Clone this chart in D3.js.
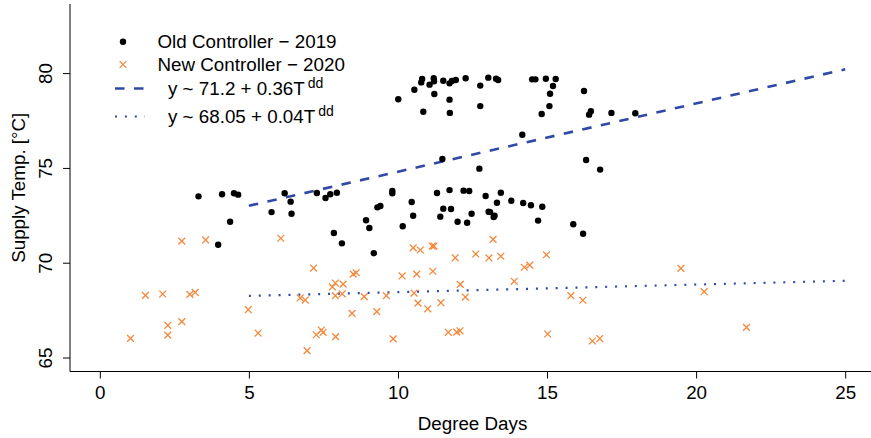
<!DOCTYPE html>
<html><head><meta charset="utf-8">
<script src="https://cdn.jsdelivr.net/npm/d3@7/dist/d3.min.js"></script>
<style>
body{margin:0;background:#fff}
svg{display:block}
text{font-family:"Liberation Sans",Arial,Helvetica,sans-serif;fill:#000}
</style>
</head><body>
<svg id="chart" width="871" height="438"></svg>
<script>
// ---- data ----
const oldPoints = [
 [10.01,78.62],[10.55,79.12],[10.81,79.69],[10.78,79.51],[10.85,77.96],[11.06,79.39],[11.20,79.73],[11.21,79.57],
 [11.22,78.90],[11.52,79.60],[11.73,79.46],[11.81,79.58],[11.94,79.64],[11.73,78.60],[11.74,77.90],[12.27,79.73],
 [12.76,79.34],[12.76,78.26],[13.03,79.76],[13.29,79.70],[13.36,79.64],[14.50,79.67],[14.61,79.67],[14.96,79.70],
 [15.29,79.69],[15.20,79.32],[15.10,78.91],[15.08,78.26],[14.82,77.84],[14.17,76.75],[16.24,79.06],[16.47,77.99],
 [16.41,77.81],[17.16,77.90],[17.96,77.88],[11.49,75.47],[12.73,74.96],[16.31,75.42],[16.78,74.91],[15.88,72.03],
 [16.21,71.53],[3.31,73.50],[4.10,73.61],[4.50,73.66],[4.64,73.59],[4.37,72.16],[3.97,70.95],[6.20,73.66],
 [6.40,73.22],[5.76,72.67],[6.43,72.58],[7.28,73.68],[7.57,73.41],[7.73,73.61],[7.95,73.69],[7.85,71.57],
 [8.12,71.02],[8.93,72.24],[9.04,71.83],[9.19,70.50],[9.31,72.92],[9.41,72.99],[9.81,73.78],[9.81,73.66],
 [10.16,71.92],[10.46,73.20],[10.51,72.48],[11.31,73.68],[11.42,72.43],[11.52,72.85],[11.73,73.83],[11.78,72.83],
 [12.00,72.16],[12.20,73.80],[12.39,73.78],[12.32,72.11],[12.47,72.58],[12.94,73.52],[13.04,72.69],[13.09,72.67],
 [13.21,72.41],[13.24,72.48],[13.32,73.16],[13.45,73.69],[13.80,73.27],[14.20,73.15],[14.46,73.03],[14.70,72.22],
 [14.84,72.95]
];
const newPoints = [
 [2.75,71.14],[3.55,71.20],[6.07,71.29],[7.17,69.72],[8.50,69.40],[8.60,69.47],[1.53,68.28],[2.11,68.35],
 [3.02,68.33],[3.20,68.43],[2.28,66.70],[2.75,66.89],[2.28,66.18],[1.03,66.01],[4.98,67.52],[5.31,66.29],
 [6.72,68.14],[6.89,68.03],[6.95,65.36],[7.80,68.72],[7.90,68.93],[8.16,68.87],[7.90,68.26],[8.13,68.36],
 [8.46,67.33],[7.26,66.20],[7.43,66.45],[7.49,66.33],[7.91,66.10],[13.19,71.23],[10.51,70.78],[10.75,70.67],
 [11.15,70.88],[11.21,70.88],[11.92,70.26],[12.61,70.46],[13.05,70.25],[13.45,70.34],[14.98,70.42],[14.24,69.76],
 [14.42,69.87],[10.14,69.30],[10.63,69.40],[11.17,69.55],[13.90,69.02],[12.09,68.86],[8.87,68.21],[9.61,68.26],
 [10.54,68.40],[12.26,68.19],[10.67,67.87],[11.00,67.57],[11.44,67.89],[9.29,67.42],[9.84,65.98],[11.69,66.33],
 [11.97,66.34],[12.08,66.41],[15.02,66.24],[15.80,68.26],[16.20,68.02],[16.52,65.87],[16.77,66.00],[19.49,69.70],
 [20.27,68.47],[21.69,66.59]
];
const fitIntercepts = [71.2, 68.05];
const fitSlopes = [0.36, 0.04];
const fitRange = [5, 25];
const xTicks = [0, 5, 10, 15, 20, 25];
const yTicks = [65, 70, 75, 80];
const seriesLabels = ["Old Controller \u2212 2019", "New Controller \u2212 2020"];
const fitLabels = ["y ~ 71.2 + 0.36T", "y ~ 68.05 + 0.04T"];
const fitSup = "dd";
const xTitle = "Degree Days";
const yTitle = "Supply Temp. [\u00B0C]";

// ---- layout ----
const L = 70, R = 875, T = 4, B = 371.5;
const blue = "#2f49a6", orange = "#f5873a";
const FS = 18.8;

const svg = d3.select("#chart");
const x = d3.scaleLinear().domain([-1, 26]).range([L, R]);
const y = d3.scaleLinear().domain([64.262, 83.645]).range([B, T]);

// frame (L-shaped box)
svg.append("path").attr("d", `M${L},${T}V${B}H${R}`).attr("fill","none").attr("stroke","#000").attr("stroke-width",1);

// x axis
const gx = svg.append("g").attr("transform", `translate(0,${B})`)
  .call(d3.axisBottom(x).tickValues(xTicks).tickSize(7).tickSizeOuter(0).tickFormat(d3.format("d")));
gx.select(".domain").remove();
gx.selectAll("line").attr("stroke","#000");
gx.selectAll("text").attr("y", 27.5).attr("dy", null).attr("font-size", FS)
  .attr("font-family", null).attr("fill","#000");

// y axis
const gy = svg.append("g").attr("transform", `translate(${L},0)`)
  .call(d3.axisLeft(y).tickValues(yTicks).tickSize(7).tickSizeOuter(0).tickFormat(d3.format("d")));
gy.select(".domain").remove();
gy.selectAll("line").attr("stroke","#000");
gy.selectAll("text").attr("x", null).attr("dy", null).attr("y", null)
  .attr("transform", "translate(-18.3,0) rotate(-90)").attr("text-anchor","middle")
  .attr("font-size", FS).attr("font-family", null).attr("fill","#000");

// titles
svg.append("text").attr("x", (L+R)/2).attr("y", 430).attr("text-anchor","middle")
  .attr("font-size", FS).text(xTitle);
svg.append("text").attr("transform", `translate(25,${(T+B)/2}) rotate(-90)`).attr("text-anchor","middle")
  .attr("font-size", FS).text(yTitle);

// fit lines
const fitDash = ["9.5,9.5", "2,7.9"];
const fitWidth = [2.6, 2.2];
fitIntercepts.forEach((a, i) => {
  const b = fitSlopes[i];
  svg.append("line")
    .attr("x1", x(fitRange[0])).attr("y1", y(a + b*fitRange[0]))
    .attr("x2", x(fitRange[1])).attr("y2", y(a + b*fitRange[1]))
    .attr("stroke", blue).attr("stroke-width", fitWidth[i]).attr("stroke-dasharray", fitDash[i]);
});

// old points
svg.append("g").selectAll("circle").data(oldPoints).join("circle")
  .attr("cx", d => x(d[0])).attr("cy", d => y(d[1])).attr("r", 3.2).attr("fill", "#000");

// new points (crosses)
const cs = 3.4;
svg.append("g").selectAll("path").data(newPoints).join("path")
  .attr("d", d => { const cx = x(d[0]), cy = y(d[1]);
    return `M${cx-cs},${cy-cs}L${cx+cs},${cy+cs}M${cx-cs},${cy+cs}L${cx+cs},${cy-cs}`; })
  .attr("stroke", orange).attr("stroke-width", 1.3).attr("fill","none");

// legend
const lg = svg.append("g");
const symX = 123, rowY = [41.7, 64.5, 88.5, 116.5];
lg.append("circle").attr("cx", symX).attr("cy", rowY[0]).attr("r", 3.2).attr("fill","#000");
lg.append("path").attr("d", `M${symX-cs},${rowY[1]-cs}L${symX+cs},${rowY[1]+cs}M${symX-cs},${rowY[1]+cs}L${symX+cs},${rowY[1]-cs}`)
  .attr("stroke", orange).attr("stroke-width", 1.3);
[2,3].forEach((r, i) => {
  lg.append("line").attr("x1", 115).attr("x2", 145).attr("y1", rowY[r]).attr("y2", rowY[r])
    .attr("stroke", blue).attr("stroke-width", fitWidth[i]).attr("stroke-dasharray", fitDash[i]);
});
seriesLabels.forEach((s, i) => {
  lg.append("text").attr("x", 157.5).attr("y", rowY[i] + 6.5).attr("font-size", FS).text(s);
});
fitLabels.forEach((s, i) => {
  const t = lg.append("text").attr("x", 168).attr("y", rowY[i+2] + 6.5).attr("font-size", FS);
  t.append("tspan").text(s);
  t.append("tspan").attr("dx", 3).attr("dy", -7).attr("font-size", 14).text(fitSup);
});
</script>
</body></html>
